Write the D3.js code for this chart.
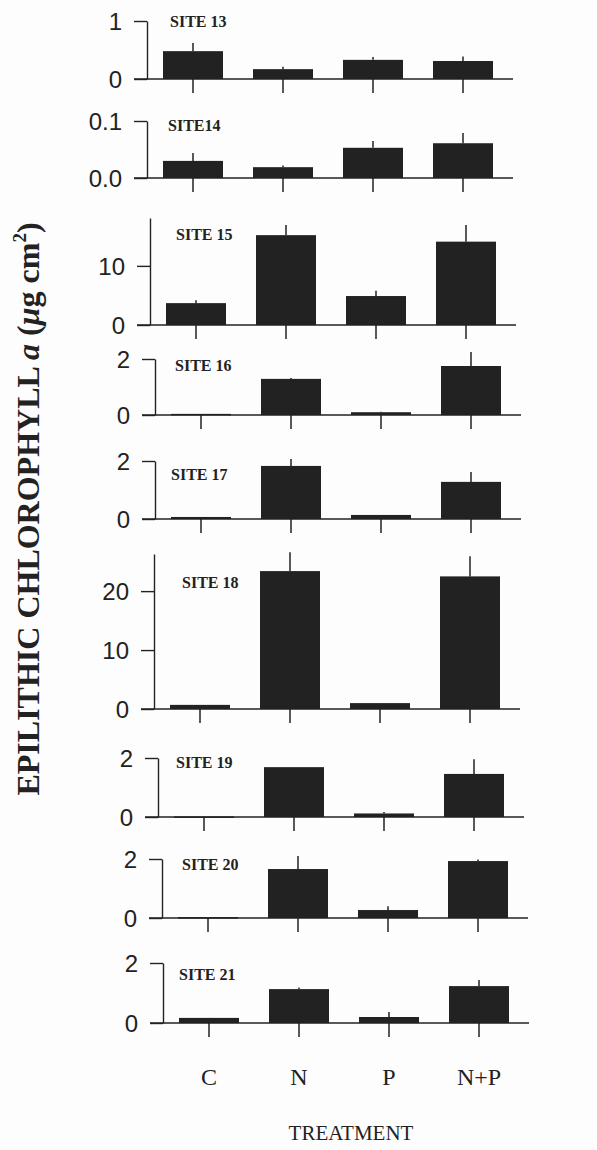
<!DOCTYPE html>
<html>
<head>
<meta charset="utf-8">
<script src="https://cdn.jsdelivr.net/npm/d3@7"></script>
<style>
  body { margin: 0; background: #fdfdfd; }
  svg { display: block; }
  .tick text { font-family: "Liberation Sans", Arial, sans-serif; font-size: 24px; fill: #222; }
  .site { font-family: "Liberation Serif", "Times New Roman", serif; font-weight: bold; font-size: 16px; fill: #222; }
</style>
</head>
<body>
<svg id="chart" width="597" height="1150"></svg>
<script>
const treatments = ['C', 'N', 'P', 'N+P']
const sites = ['SITE 13', 'SITE14', 'SITE 15', 'SITE 16', 'SITE 17', 'SITE 18', 'SITE 19', 'SITE 20', 'SITE 21']
const means = [
  [0.48, 0.17, 0.33, 0.31],
  [0.030, 0.019, 0.053, 0.061],
  [3.7, 15.2, 4.9, 14.1],
  [0.04, 1.29, 0.10, 1.75],
  [0.07, 1.83, 0.14, 1.28],
  [0.7, 23.4, 1.0, 22.5],
  [0.02, 1.69, 0.12, 1.46],
  [0.03, 1.66, 0.27, 1.93],
  [0.17, 1.13, 0.20, 1.23]
]
const errors = [
  [0.14, 0.04, 0.05, 0.08],
  [0.014, 0.003, 0.012, 0.018],
  [0.5, 1.7, 0.9, 2.8],
  [0, 0.03, 0.02, 0.5],
  [0, 0.24, 0, 0.34],
  [0, 3.2, 0, 3.4],
  [0, 0, 0.05, 0.5],
  [0, 0.44, 0.13, 0.05],
  [0, 0.05, 0.17, 0.2]
]
const yTicks = [[0, 1], [0, 0.1], [0, 10], [0, 2], [0, 2], [0, 10, 20], [0, 2], [0, 2], [0, 2]]
const yTickLabels = [['0', '1'], ['0.0', '0.1'], ['0', '10'], ['0', '2'], ['0', '2'], ['0', '10', '20'], ['0', '2'], ['0', '2'], ['0', '2']]
const yTops = [1, 0.1, 18.1, 2, 2, 26.3, 2, 2, 2]

// layout of each panel: baseline y, axis height (px), axis x, site label position
const layout = [
  {base: 79, h: 58, ax: 147, lx: 170, ly: 27},
  {base: 178, h: 57, ax: 147, lx: 168, ly: 131},
  {base: 325, h: 107, ax: 150, lx: 176, ly: 240},
  {base: 415, h: 56, ax: 155, lx: 175, ly: 371},
  {base: 519, h: 58, ax: 155, lx: 171, ly: 480},
  {base: 709, h: 155, ax: 154, lx: 182, ly: 588},
  {base: 817, h: 59, ax: 158, lx: 176, ly: 768},
  {base: 918, h: 59, ax: 162, lx: 182, ly: 870},
  {base: 1023, h: 60, ax: 163, lx: 179, ly: 980}
]

const ink = '#222'
const svg = d3.select('#chart')
svg.append('rect').attr('width', 597).attr('height', 1150).attr('fill', '#fdfdfd')

let lastX
sites.forEach((site, i) => {
  const L = layout[i]
  const x = d3.scaleBand().domain(treatments)
    .range([L.ax + 1, L.ax + 361]).paddingInner(1 / 3).paddingOuter(1 / 6)
  const y = d3.scaleLinear().domain([0, yTops[i]]).range([L.base, L.base - L.h])
  lastX = x
  const g = svg.append('g')

  // category ticks below the baseline
  g.append('g')
    .attr('transform', `translate(0,${L.base})`)
    .call(d3.axisBottom(x).tickSize(14).tickFormat(''))
    .call(a => a.select('.domain').remove())
    .selectAll('line').attr('stroke', ink).attr('stroke-width', 1.5)

  // bars
  const rows = treatments.map((t, j) => ({t, v: means[i][j], e: errors[i][j]}))
  g.selectAll('rect.bar').data(rows).enter().append('rect')
    .attr('class', 'bar')
    .attr('x', d => x(d.t))
    .attr('width', x.bandwidth())
    .attr('y', d => y(d.v))
    .attr('height', d => Math.max(y(0) - y(d.v), 1.5))
    .attr('fill', ink)

  // error bars
  g.selectAll('line.err').data(rows.filter(d => d.e > 0)).enter().append('line')
    .attr('class', 'err')
    .attr('x1', d => x(d.t) + x.bandwidth() / 2)
    .attr('x2', d => x(d.t) + x.bandwidth() / 2)
    .attr('y1', d => y(d.v))
    .attr('y2', d => y(d.v + d.e))
    .attr('stroke', ink).attr('stroke-width', 1.5)

  // baseline
  g.append('line')
    .attr('x1', L.ax - 13).attr('x2', L.ax + 366)
    .attr('y1', L.base).attr('y2', L.base)
    .attr('stroke', ink).attr('stroke-width', 1.7)

  // y axis
  const yAxis = g.append('g')
    .attr('transform', `translate(${L.ax},0)`)
    .call(d3.axisLeft(y).tickValues(yTicks[i]).tickSize(13).tickSizeOuter(0).tickPadding(12)
      .tickFormat((d, k) => yTickLabels[i][k]))
  yAxis.select('.domain').attr('stroke', ink).attr('stroke-width', 1.4)
  yAxis.selectAll('.tick line').attr('stroke', ink).attr('stroke-width', 1.4)
  yAxis.selectAll('.tick text').attr('dy', '0.36em')

  g.append('text').attr('class', 'site')
    .attr('x', L.lx).attr('y', L.ly).text(site)
})

// treatment labels
svg.append('g').selectAll('text').data(treatments).enter().append('text')
  .attr('x', d => lastX(d) + lastX.bandwidth() / 2)
  .attr('y', 1085)
  .attr('text-anchor', 'middle')
  .attr('font-family', '"Liberation Serif", "Times New Roman", serif')
  .attr('font-size', 24)
  .attr('fill', ink)
  .text(d => d)

svg.append('text')
  .attr('x', 351).attr('y', 1140)
  .attr('text-anchor', 'middle')
  .attr('font-family', '"Liberation Serif", "Times New Roman", serif')
  .attr('font-size', 21)
  .attr('fill', ink)
  .text('TREATMENT')

// y axis title
const yt = svg.append('text')
  .attr('transform', 'translate(39,509) rotate(-90)')
  .attr('text-anchor', 'middle')
  .attr('font-family', '"Liberation Serif", "Times New Roman", serif')
  .attr('font-weight', 'bold')
  .attr('font-size', 32)
  .attr('fill', ink)
yt.append('tspan').text('EPILITHIC CHLOROPHYLL ')
yt.append('tspan').attr('font-style', 'italic').text('a')
yt.append('tspan').text(' (')
yt.append('tspan').attr('font-style', 'italic').text('μ')
yt.append('tspan').text('g cm')
yt.append('tspan').attr('font-size', 19).attr('dy', -13).text('2')
yt.append('tspan').attr('dy', 13).text(')')
</script>
</body>
</html>
